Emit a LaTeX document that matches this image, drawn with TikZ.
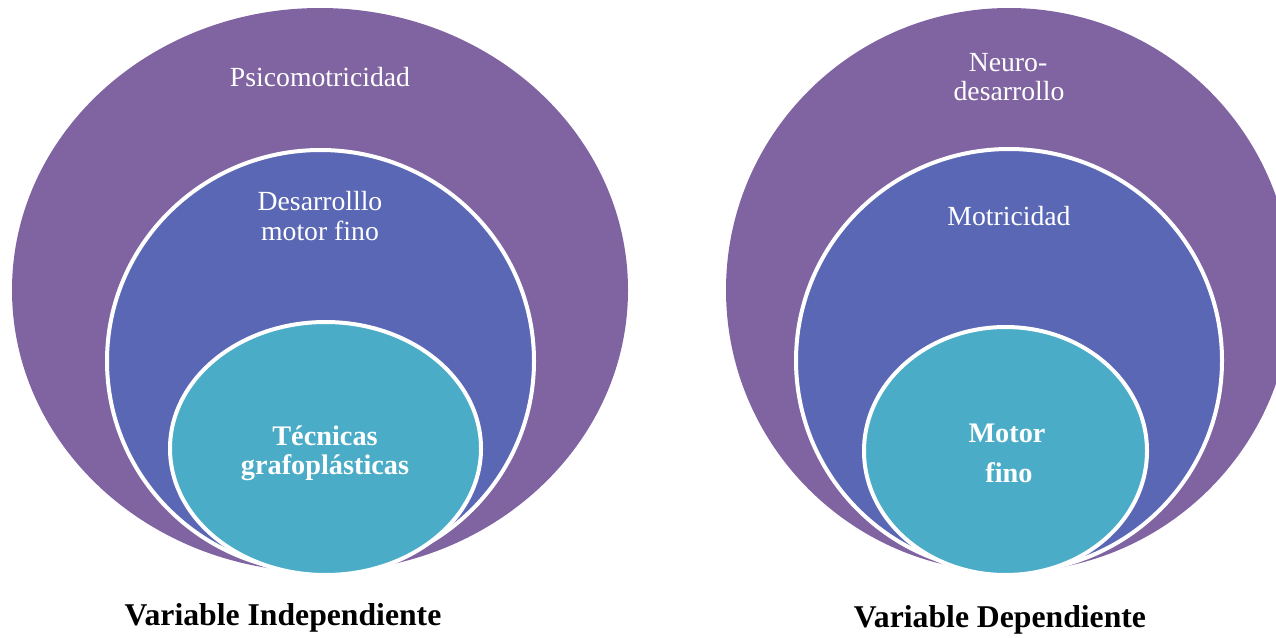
\documentclass[tikz,border=0pt]{standalone}
\usepackage{fontspec}
\setmainfont{Liberation Serif}
\usetikzlibrary{shapes.geometric}
\definecolor{outerpurple}{HTML}{8064A2}
\definecolor{midblue}{HTML}{5A67B4}
\definecolor{innerteal}{HTML}{4AACC6}
\tikzset{
  ring/.style={ellipse, inner sep=0pt, outer sep=0pt},
  outerring/.style={ring, fill=outerpurple},
  midring/.style={ring, fill=midblue, draw=white, line width=4pt},
  innerring/.style={ring, fill=innerteal, draw=white, line width=4pt},
  lbl/.style={text=white, anchor=base, inner sep=0pt, font=\fontsize{27.7}{31}\selectfont},
  blbl/.style={text=white, anchor=base, inner sep=0pt, font=\fontsize{28.3}{31}\selectfont\bfseries},
  caption/.style={text=black, anchor=base, inner sep=0pt, font=\fontsize{31.7}{36}\selectfont\bfseries}
}
\begin{document}
\begin{tikzpicture}[x=1pt, y=-1pt]
\useasboundingbox (0,0) rectangle (1276,637);
\clip (0,0) rectangle (1276,637);
% left group
\node[outerring, minimum width=616pt, minimum height=564pt] (lo) at (320,290) {};
\node[midring, minimum width=427pt, minimum height=422pt] (lm) at (320.5,361) {};
\node[innerring, minimum width=311pt, minimum height=253pt] (li) at (325.5,448.5) {};
\node[lbl] (t1) at (320,86) {Psicomotricidad};
\node[lbl] (t2) at (320,210) {Desarrolllo};
\node[lbl] (t3) at (320,240) {motor fino};
\node[blbl] (t4) at (325,445) {Técnicas};
\node[blbl] (t5) at (325,474) {grafoplásticas};
\node[caption] (c1) at (283,625) {Variable Independiente};
% right group
\node[outerring, minimum width=566pt, minimum height=564pt] (ro) at (1009,290) {};
\node[midring, minimum width=426pt, minimum height=423pt] (rm) at (1009,360.5) {};
\node[innerring, minimum width=283pt, minimum height=248pt] (ri) at (1005.5,451) {};
\node[lbl] (s1) at (1008,71) {Neuro-};
\node[lbl] (s2) at (1009,100) {desarrollo};
\node[lbl] (s3) at (1009,225) {Motricidad};
\node[blbl] (s4) at (1007,442) {Motor};
\node[blbl] (s5) at (1009,482) {fino};
\node[caption] (c2) at (1000,627) {Variable Dependiente};
\end{tikzpicture}
\end{document}
